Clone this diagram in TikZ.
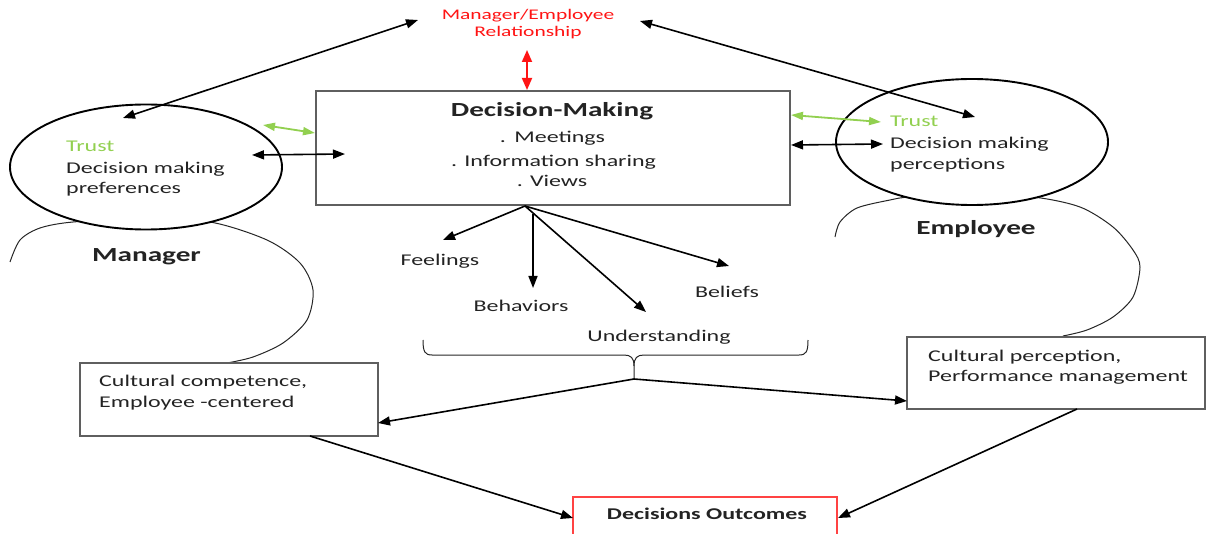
\documentclass[tikz,border=0pt]{standalone}
\usepackage{fontspec}
\setmainfont{Carlito}[FakeStretch=1.46]
\usetikzlibrary{arrows.meta,shapes.geometric}
\definecolor{grn}{RGB}{146,208,80}
\definecolor{rd}{RGB}{255,20,20}
\definecolor{boxgray}{RGB}{95,95,95}
\definecolor{ink}{RGB}{35,35,35}
\begin{document}
\begin{tikzpicture}[x=1pt,y=-1pt,
  body/.style={inner sep=0pt, text=ink, font=\fontsize{16.4}{21}\selectfont},
  bodybold/.style={inner sep=0pt, text=ink, font=\fontsize{16.4}{21}\selectfont\bfseries},
  headbold/.style={inner sep=0pt, text=ink, font=\fontsize{20}{24}\selectfont\bfseries},
  redtxt/.style={inner sep=0pt, text=rd, font=\fontsize{14.7}{18}\selectfont},
  greentxt/.style={inner sep=0pt, text=grn, font=\fontsize{16.4}{21}\selectfont},
  box/.style={draw=boxgray, line width=1.3pt, fill=white, inner sep=0pt},
  oval/.style={draw=black, ellipse, line width=1.9pt, fill=white, inner sep=0pt},
  thinarc/.style={draw=black!85, line width=1pt},
  darr/.style={line width=1.6pt, {Triangle[length=12pt,width=9pt]}-{Triangle[length=12pt,width=9pt]}},
  arr/.style={line width=1.6pt, -{Triangle[length=12pt,width=9pt]}},
  garr/.style={draw=grn, line width=1.8pt, {Triangle[length=12pt,width=8pt]}-{Triangle[length=12pt,width=8pt]}},
  rarr/.style={draw=rd, line width=1.8pt, {Triangle[length=12pt,width=10pt]}-{Triangle[length=12pt,width=10pt]}}
]
\useasboundingbox (0,0) rectangle (1206,534);
\clip (0,0) rectangle (1206,534);

% arcs (Manager / Employee)
\draw[thinarc] plot[smooth] coordinates {(10,262) (20,240) (40,228) (73,222) (140,219) (210,222) (267,240) (300,263) (313,290) (307,320) (283,343) (253,357) (227,363)};
\draw[thinarc] plot[smooth] coordinates {(835,237) (840,222) (857,208) (890,200) (910,197) (970,195) (1033,197) (1080,207) (1113,227) (1133,250) (1140,267) (1133,297) (1113,317) (1087,330) (1063,336)};

% ellipses
\node[oval, minimum width=272pt, minimum height=125pt] (mgrE) at (146,167) {};
\node[oval, minimum width=272pt, minimum height=126pt] (empE) at (972,142) {};

% boxes
\node[box, minimum width=474pt, minimum height=114pt] (dm) at (553,148) {};
\node[box, minimum width=298pt, minimum height=73pt] (cc) at (229,399.5) {};
\node[box, minimum width=298pt, minimum height=72pt] (cp) at (1056,373) {};
\node[box, draw=rd!80, minimum width=264pt, minimum height=63pt] (out) at (705,528.5) {};

% texts
\node[redtxt, anchor=base] (rel1) at (528,19.5) {Manager/Employee};
\node[redtxt, anchor=base] (rel2) at (528,37) {Relationship};

\node[headbold, anchor=base] (dmT) at (552,117) {Decision-Making};
\node[body, anchor=base] (dm1) at (552.5,143) {.\kern3pt\ Meetings};
\node[body, anchor=base] (dm2) at (553.5,167) {. Information sharing};
\node[body, anchor=base] (dm3) at (552,187) {. Views};

\node[greentxt, anchor=base west] (mT) at (66,152) {Trust};
\node[body, anchor=base west] (m1) at (66,173.5) {Decision making};
\node[body, anchor=base west] (m2) at (66,194) {preferences};

\node[greentxt, anchor=base west] (eT) at (890,127) {Trust};
\node[body, anchor=base west] (e1) at (890,148.5) {Decision making};
\node[body, anchor=base west] (e2) at (890,169.5) {perceptions};

\node[headbold, anchor=base] (mgr) at (146.5,262) {Manager};
\node[headbold, anchor=base] (emp) at (976,235) {Employee};

\node[body, anchor=base west] (cc1) at (99,386) {Cultural competence,};
\node[body, anchor=base west] (cc2) at (99,407) {Employee -centered};
\node[body, anchor=base west] (cp1) at (928,361) {Cultural perception,};
\node[body, anchor=base west] (cp2) at (928,381) {Performance management};

\node[body, anchor=base] (feel) at (440,266) {Feelings};
\node[body, anchor=base] (beh) at (521,312) {Behaviors};
\node[body, anchor=base] (und) at (659,341) {Understanding};
\node[body, anchor=base] (bel) at (727,298) {Beliefs};

\node[bodybold, anchor=base] (outT) at (707,519) {Decisions Outcomes};

% brace
\coordinate (bt) at (634,379);
\draw[thinarc] (423,340) .. controls (423,352) and (425,355) .. (432,355) -- (624,355)
  .. controls (631,355) and (634,358) .. (634,366) -- (bt);
\draw[thinarc] (808,340) .. controls (808,352) and (806,355) .. (799,355) -- (644,355)
  .. controls (637,355) and (634,358) .. (634,366);

% connector end points
\coordinate (r1) at (527,50);  \coordinate (r2) at (527,90);
\coordinate (tl1) at (418,20); \coordinate (tl2) at (123,118);
\coordinate (tr1) at (640,21); \coordinate (tr2) at (975,117);
\coordinate (gl1) at (263,125); \coordinate (gl2) at (315,133);
\coordinate (gr1) at (791,115); \coordinate (gr2) at (881,122);
\coordinate (bl1) at (252,155); \coordinate (bl2) at (345,154);
\coordinate (br1) at (791,145); \coordinate (br2) at (883,144);
\coordinate (ds) at (525,206); \coordinate (ds2) at (533,214);
\coordinate (hFeel) at (443,240); \coordinate (hBeh) at (533,288);
\coordinate (hUnd) at (646,312); \coordinate (hBel) at (729,266);
\coordinate (hcc) at (378,423); \coordinate (hcp) at (907,401);
\coordinate (ccs) at (310,436); \coordinate (cps) at (1077,409);
\coordinate (ho1) at (573,518); \coordinate (ho2) at (838,518);

% connectors
\draw[rarr] (r1) -- (r2);
\draw[darr] (tl1) -- (tl2);
\draw[darr] (tr1) -- (tr2);
\draw[garr] (gl1) -- (gl2);
\draw[garr] (gr1) -- (gr2);
\draw[darr] (bl1) -- (bl2);
\draw[darr] (br1) -- (br2);
\draw[arr] (ds) -- (hFeel);
\draw[arr] (ds2) -- (hBeh);
\draw[arr] (ds) -- (hUnd);
\draw[arr] (ds) -- (hBel);
\draw[arr] (bt) -- (hcc);
\draw[arr] (bt) -- (hcp);
\draw[arr] (ccs) -- (ho1);
\draw[arr] (cps) -- (ho2);
\end{tikzpicture}
\end{document}
